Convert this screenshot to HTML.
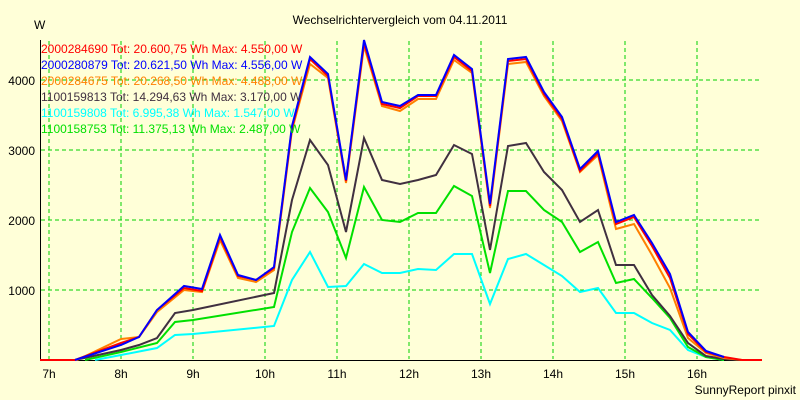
<!DOCTYPE html>
<html><head><style>
body{margin:0;width:800px;height:400px;background:#FFFFD8;overflow:hidden}
svg{display:block}
text{font-family:"Liberation Sans",sans-serif;font-size:12px}
</style></head><body>
<svg width="800" height="400" xmlns="http://www.w3.org/2000/svg">
<rect width="800" height="400" fill="#FFFFD8"/>
<text x="400" y="24" text-anchor="middle" font-size="13">Wechselrichtervergleich vom 04.11.2011</text>
<text x="34" y="29" font-size="13">W</text>
<g stroke="#00D000" stroke-dasharray="4,3" stroke-width="1">
<line x1="49" y1="41" x2="49" y2="359"/><line x1="121" y1="41" x2="121" y2="359"/><line x1="193" y1="41" x2="193" y2="359"/><line x1="265" y1="41" x2="265" y2="359"/><line x1="337" y1="41" x2="337" y2="359"/><line x1="409" y1="41" x2="409" y2="359"/><line x1="481" y1="41" x2="481" y2="359"/><line x1="553" y1="41" x2="553" y2="359"/><line x1="625" y1="41" x2="625" y2="359"/><line x1="697" y1="41" x2="697" y2="359"/>
<line x1="41" y1="290" x2="762" y2="290"/><line x1="41" y1="220" x2="762" y2="220"/><line x1="41" y1="150" x2="762" y2="150"/><line x1="41" y1="80" x2="762" y2="80"/>
</g>
<polyline fill="none" stroke="#000" stroke-width="1" points="40.5,40 40.5,360.5 762,360.5"/>
<g text-anchor="end" font-size="13"><text x="35" y="295">1000</text><text x="35" y="225">2000</text><text x="35" y="155">3000</text><text x="35" y="85">4000</text></g>
<g text-anchor="middle" font-size="13"><text x="49" y="378">7h</text><text x="121" y="378">8h</text><text x="193" y="378">9h</text><text x="265" y="378">10h</text><text x="337" y="378">11h</text><text x="409" y="378">12h</text><text x="481" y="378">13h</text><text x="553" y="378">14h</text><text x="625" y="378">15h</text><text x="697" y="378">16h</text></g>
<text x="796" y="394" text-anchor="end" font-size="11">SunnyReport pinxit</text>
<g fill="none" stroke-width="2" stroke-linejoin="miter">
<polyline stroke="#00FFFF" points="95,360 121,355 157,348 175,335 193,334 274,326 292,280 310,252 328,287 346,286 364,264 382,273 400,273 418,269 436,270 454,254 472,254 490,304 508,259 526,254 544,265 562,276 580,292 598,288 616,313 634,313 652,323 670,330 688,350 706,357 724,360"/>
<polyline stroke="#00E000" points="85,360 121,352 157,343 175,322 193,320 274,307 292,232 310,188 328,212 346,258 364,187 382,220 400,222 418,213 436,213 454,186 472,196 490,273 508,191 526,191 544,210 562,222 580,252 598,242 616,283 634,279 652,298 670,318 688,347 706,357 724,360"/>
<polyline stroke="#403040" points="75,360 121,350 139,345 157,338 175,313 193,310 274,293 292,200 310,140 328,165 346,232 364,138 382,180 400,184 418,180 436,175 454,145 472,154 490,250 508,146 526,143 544,172 562,190 580,222 598,210 616,265 634,265 652,295 670,316 688,343 706,356 724,359 740,360"/>
<polyline stroke="#FF8000" points="40,360 77,360 121,339 139,337 157,312 184,290 202,292 220,240 238,278 256,282 274,270 292,130 310,64 328,78 346,183 364,46 382,106 400,111 418,99 436,99 454,60 472,73 490,208 508,64 526,62 544,96 562,121 580,172 598,155 616,229 634,224 652,255 670,288 688,338 706,353 724,358 742,360 762,360"/>
<polyline stroke="#FF0000" points="40,360 75,360 121,343 139,337 157,310 184,288 202,291 220,237 238,276 256,280 274,268 292,128 310,59 328,76 346,181 364,43 382,104 400,108 418,96 436,96 454,57 472,71 490,206 508,61 526,59 544,94 562,119 580,171 598,153 616,224 634,217 652,246 670,278 688,334 706,352 724,357 742,360 762,360"/>
<polyline stroke="#0000FF" points="75,360 121,345 139,337 157,310 184,286 202,289 220,235 238,275 256,280 274,267 292,126 310,57 328,74 346,180 364,40 382,102 400,106 418,95 436,95 454,55 472,69 490,204 508,59 526,57 544,92 562,117 580,169 598,151 616,222 634,215 652,243 670,274 688,332 706,351 724,357"/>
</g>
<g font-size="12">
<text x="41" y="53" fill="#FF0000">2000284690 Tot: 20.600,75 Wh Max: 4.550,00 W</text>
<text x="41" y="69" fill="#0000FF">2000280879 Tot: 20.621,50 Wh Max: 4.556,00 W</text>
<text x="41" y="85" fill="#FF8000">2000284675 Tot: 20.268,50 Wh Max: 4.488,00 W</text>
<text x="41" y="101" fill="#403040">1100159813 Tot: 14.294,63 Wh Max: 3.170,00 W</text>
<text x="41" y="117" fill="#00FFFF">1100159808 Tot: 6.995,38 Wh Max: 1.547,00 W</text>
<text x="41" y="133" fill="#00E000">1100158753 Tot: 11.375,13 Wh Max: 2.487,00 W</text>
</g>
</svg>
</body></html>
